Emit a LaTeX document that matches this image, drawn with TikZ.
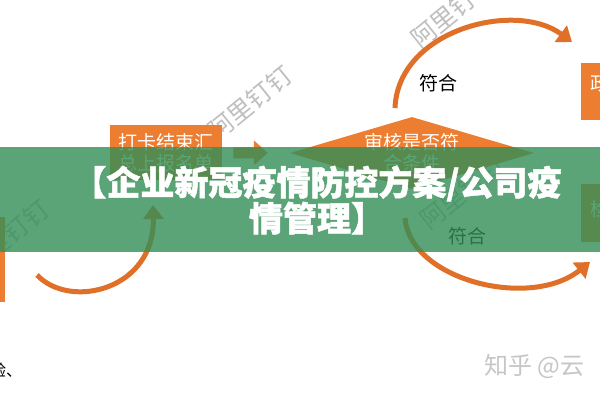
\documentclass[tikz,border=0pt]{standalone}
\usepackage{fontspec}
\setmainfont{Noto Sans CJK SC}
\newfontfamily\titlefont[BoldFeatures={FakeBold=1.5}]{Noto Sans CJK SC}
\usetikzlibrary{shapes.geometric,arrows.meta}
\definecolor{boxorange}{RGB}{237,125,49}
\definecolor{arcorange}{RGB}{224,112,40}
\definecolor{bannergreen}{RGB}{49,142,86}

\begin{document}
\begin{tikzpicture}[x=1pt,y=-1pt,
    obox/.style={fill=boxorange, draw=none, inner sep=0pt, anchor=north west},
    boxtext/.style={font=\fontsize{19pt}{21pt}\selectfont, text=white, align=center},
    arc/.style={draw=arcorange, line width=5pt, -{Triangle[length=14pt,width=20pt]}},
    yes/.style={font=\fontsize{19pt}{21pt}\selectfont, text=black},
    wmark/.style={font=\fontsize{25pt}{25pt}\selectfont, text=gray!50, rotate=39},
    ]
    \useasboundingbox (0,0) rectangle (600,400);
    \clip (0,0) rectangle (600,400);
    \fill[white] (0,0) rectangle (600,400);

    % watermarks
    \node[wmark] (wm1) at (250,103) {阿里钉钉};
    \node[wmark] (wm2) at (453,11) {阿里钉钉};
    \node[wmark] (wm3) at (7,237) {阿里钉钉};
    \node[wmark] (wm4) at (462,192) {阿里钉钉};

    % boxes
    \node[obox, minimum width=112pt, minimum height=55pt, boxtext] (collect) at (110,125) {打卡结束汇\\总上报名单};
    \node[shape=diamond, fill=boxorange, inner sep=0pt, aspect=3.4,
        minimum width=244pt, minimum height=72pt, boxtext] (check) at (412,153) {审核是否符\\合条件};
    \node[obox, minimum width=60pt, minimum height=57pt] (govbox) at (581,63) {};
    \node[boxtext, anchor=west] (govtxt) at (587,83) {政};
    \node[obox, minimum width=60pt, minimum height=58pt] (testbox) at (581,184) {};
    \node[boxtext, anchor=west] (testtxt) at (587,209) {检};
    \node[obox, minimum width=60pt, minimum height=85pt] (leftbox) at (-55,217) {};

    \draw[line width=11pt, boxorange, -{Triangle[length=14pt,width=24pt]},
        shorten <=11pt, shorten >=22pt] (collect.east) -- (check.west);

    % curved arrows
    \coordinate (upstart) at (395,108);
    \coordinate (upend) at (572,42);
    \coordinate (downstart) at (405,218);
    \coordinate (downend) at (590,262);
    \coordinate (backstart) at (37,275);
    \coordinate (backend) at (153,205);
    \draw[arc] (upstart) .. controls (398,30) and (515,0) .. (upend);
    \draw[arc] (downstart) .. controls (410,280) and (530,310) .. (downend);
    \draw[arc] (backstart) .. controls (70,310) and (155,290) .. (backend);
    \node[yes] (yesup) at (438,83) {符合};
    \node[yes] (yesdown) at (467,236) {符合};

    \node[font=\fontsize{16pt}{16pt}\selectfont, anchor=west, inner sep=0pt] (note) at (-26,370) {检验、};
    \node[font=\fontsize{24pt}{24pt}\selectfont, text=gray!45, anchor=west, inner sep=0pt] (zhihu) at (484,366) {知乎 @云};

    % banner
    \fill[bannergreen, opacity=0.8] (0,147) rectangle (600,252);
    \node[font=\titlefont\bfseries\fontsize{34pt}{36pt}\selectfont, text=white, align=center] (title) at (317,200)
        {【企业新冠疫情防控方案/公司疫\\情管理】};
\end{tikzpicture}
\end{document}
